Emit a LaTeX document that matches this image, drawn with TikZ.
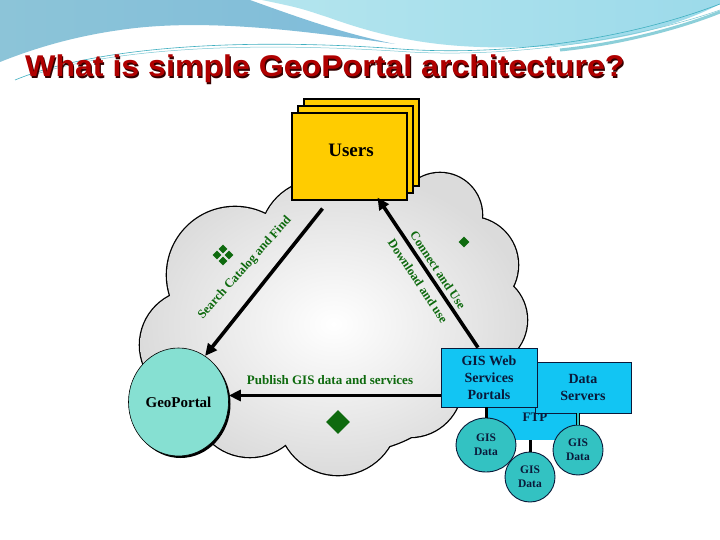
\documentclass[tikz,border=0pt]{standalone}
\usepackage{fontspec}
\setmainfont{Liberation Serif}
\newfontfamily\titlefont{Liberation Sans}
\usetikzlibrary{shapes.geometric,arrows.meta,calc}
\definecolor{titlered}{HTML}{B00000}
\definecolor{lblgreen}{HTML}{0E6A0E}
\definecolor{usersyel}{HTML}{FFCC00}
\definecolor{boxcyan}{HTML}{12C5F3}
\definecolor{geoteal}{HTML}{86E0D2}
\definecolor{datateal}{HTML}{33C2C2}
\definecolor{navytxt}{HTML}{0A1A3A}
\definecolor{hdrblue}{HTML}{8CC4D8}
\definecolor{hdrblueb}{HTML}{7FBCDA}
\definecolor{hdrlight}{HTML}{B4E5EE}
\definecolor{hdrlightb}{HTML}{9CDAEA}
\definecolor{hdrline}{HTML}{3FAFC0}
\begin{document}
\begin{tikzpicture}[x=1pt,y=-1pt,
  usersbox/.style={draw=black, line width=1.1pt, fill=usersyel, minimum width=115pt, minimum height=87pt, inner sep=0pt},
  cyanbox/.style={draw=navytxt, line width=0.9pt, fill=boxcyan, inner sep=0pt, align=center, text=navytxt, font=\bfseries\fontsize{14}{17}\selectfont},
  gisdata/.style={ellipse, draw=navytxt, line width=0.9pt, fill=datateal, inner sep=0pt, align=center, text=navytxt, font=\bfseries\fontsize{11.5}{14}\selectfont},
  greenlbl/.style={text=lblgreen, font=\bfseries\fontsize{12.5}{14}\selectfont, inner sep=0pt},
  gdiam/.style={diamond, fill=lblgreen, inner sep=0pt},
  bigarrow/.style={line width=3.6pt, -{Triangle[length=12pt,width=11pt]}},
  linkline/.style={line width=3pt, draw=black},
  titlestyle/.style={anchor=base west, inner sep=0pt, font=\titlefont\bfseries\fontsize{30}{32}\selectfont}
]
\useasboundingbox (0,0) rectangle (720,540);
\fill[white] (0,0) rectangle (720,540);

% header decoration
\shade[left color=hdrblue, right color=hdrblueb]
  (0,0) -- (250,0) .. controls (300,18) and (345,34) .. (395,44)
  .. controls (300,30) and (200,18) .. (120,30) .. controls (70,37) and (30,50) .. (0,62) -- cycle;
\shade[left color=hdrlight, right color=hdrlightb]
  (262,0) -- (720,0) -- (720,4) .. controls (650,40) and (560,50) .. (480,47)
  .. controls (420,45) and (375,34) .. (330,18) .. controls (300,8) .. (262,0) -- cycle;
\draw[hdrline, line width=0.6pt] (15,80) .. controls (100,45) and (250,38) .. (400,49) .. controls (500,56) and (620,42) .. (720,4);
\draw[hdrline!70, line width=0.5pt] (30,76) .. controls (120,46) and (260,42) .. (410,52) .. controls (520,58) and (640,38) .. (720,10);
\draw[hdrline!60, line width=3pt] (560,50) .. controls (620,44) and (680,28) .. (720,12);

% title
\node[titlestyle, text=black!70!titlered] (titleshadow) at (26.2,78.2) {\scalebox{1.07}[1]{What is simple GeoPortal architecture?}};
\node[titlestyle, text=titlered] (title) at (25,77) {\scalebox{1.07}[1]{What is simple GeoPortal architecture?}};

% cloud: outlines then shaded union
\def\cloudlobes{
  (235,275) circle[radius=68pt]
  (320,240) circle[radius=60pt]
  (440,215) circle[radius=42pt]
  (470,265) circle[radius=48pt]
  (480,320) circle[radius=47pt]
  (410,385) circle[radius=52pt]
  (338,415) circle[radius=60pt]
  (250,400) circle[radius=57pt]
  (195,345) circle[radius=55pt]
  (350,320) circle[radius=132pt]}
\draw[line width=2.6pt, black] \cloudlobes;
\shade[inner color=white, outer color=black!14] \cloudlobes;

% green diamonds
\node[gdiam, minimum size=9pt] (d1) at (223,249) {};
\node[gdiam, minimum size=9pt] (d2) at (217,255) {};
\node[gdiam, minimum size=9pt] (d3) at (229,255) {};
\node[gdiam, minimum size=9pt] (d4) at (223,261) {};
\node[gdiam, minimum size=11pt] (d5) at (464,242) {};
\node[gdiam, minimum size=24pt] (d6) at (338,422) {};

% Users stacked boxes
\node[usersbox] (users3) at (361.5,142.5) {};
\node[usersbox] (users2) at (355.5,149.5) {};
\node[usersbox] (users) at (349.5,156.5) {};
\node[inner sep=0pt, font=\bfseries\fontsize{19}{21}\selectfont] (userslbl) at (351,150) {Users};

% GeoPortal
\fill[black] (180.5,404) ellipse[x radius=50pt, y radius=54pt];
\node[ellipse, draw=black, line width=0.6pt, fill=geoteal, minimum width=100pt, minimum height=108pt, inner sep=0pt,
      font=\bfseries\fontsize{15}{17}\selectfont] (geo) at (178.5,402) {GeoPortal};

% FTP, data servers, GIS web
\node[fill=boxcyan, minimum width=91pt, minimum height=42pt, inner sep=0pt] (ftp) at (532.5,419) {};
\node[text=navytxt, inner sep=0pt, font=\bfseries\fontsize{13}{15}\selectfont] (ftplbl) at (535,417) {FTP};
\node[cyanbox, minimum width=96pt, minimum height=51pt] (ds) at (583,387.5) {Data\\Servers};
\node[cyanbox, minimum width=96pt, minimum height=59pt] (web) at (489,377.5) {GIS Web\\Services\\Portals};

% GIS data circles
\node[gisdata, minimum width=60pt, minimum height=54pt] (gd1) at (486,445) {GIS\\Data};
\node[gisdata, minimum width=50pt, minimum height=50pt] (gd2) at (530,477) {GIS\\Data};
\node[gisdata, minimum width=50pt, minimum height=50pt] (gd3) at (578,450) {GIS\\Data};
\draw[linkline] (gd1.north) -- (gd1.north |- web.south);
\draw[linkline] (gd2.north) -- (gd2.north |- ftp.south);
\draw[line width=1pt, double=datateal, double distance=1.2pt] (gd3.north) -- (gd3.north |- ds.south);

% arrows
\draw[bigarrow] ([xshift=-27pt,yshift=-8pt]users.south) -- (geo.60);
\draw[bigarrow] ([xshift=-11pt]web.north) -- ([xshift=28pt,yshift=3pt]users.south);
\draw[bigarrow] ([yshift=-18pt]web.west) -- ([yshift=-18pt]web.west -| geo.east);

% labels
\node[greenlbl, rotate=48] (lsearch) at (245,268) {Search Catalog and Find};
\node[greenlbl, rotate=-56.5] (lconnect) at (438,270) {Connect and Use};
\node[greenlbl, rotate=-56.5] (ldownload) at (418,281) {Download and use};
\node[text=lblgreen, inner sep=0pt, font=\bfseries\fontsize{13}{15}\selectfont] (lpublish) at (330,380) {Publish GIS data and services};
\end{tikzpicture}
\end{document}
